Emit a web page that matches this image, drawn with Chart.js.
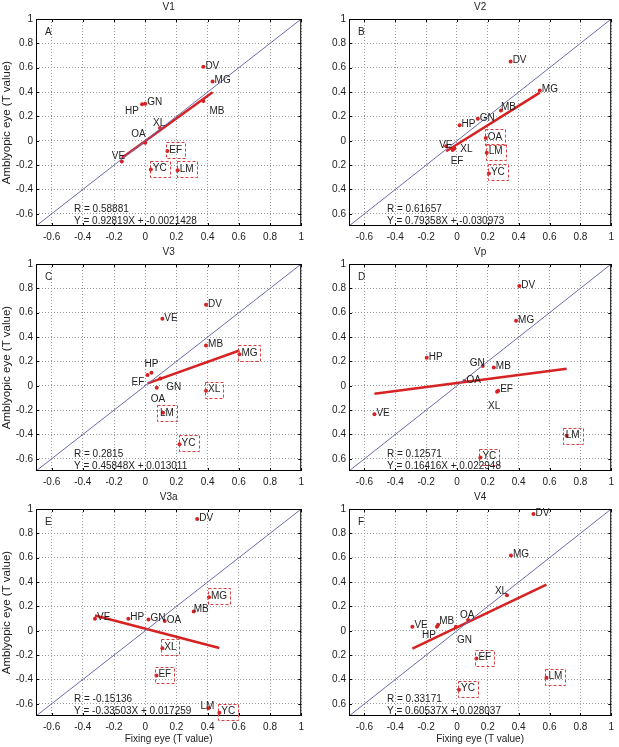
<!DOCTYPE html>
<html>
<head>
<meta charset="utf-8">
<style>
  html, body { margin: 0; padding: 0; background: #fff; width: 619px; height: 747px; overflow: hidden; }
  canvas { position: absolute; }
</style>
<script src="https://cdn.jsdelivr.net/npm/chart.js@4.4.0/dist/chart.umd.min.js"></script>
</head>
<body>
<canvas id="panelA" width="309" height="245" style="left:0;top:0"></canvas>
<canvas id="panelB" width="310" height="245" style="left:309px;top:0"></canvas>
<canvas id="panelC" width="309" height="245" style="left:0;top:245px"></canvas>
<canvas id="panelD" width="310" height="245" style="left:309px;top:245px"></canvas>
<canvas id="panelE" width="309" height="257" style="left:0;top:490px"></canvas>
<canvas id="panelF" width="310" height="257" style="left:309px;top:490px"></canvas>
<script>
/// === DATA === ///
// subject order used in every x / y array below
const subjects = ["DV", "MG", "MB", "GN", "HP", "XL", "OA", "VE", "EF", "YC", "LM"];
const axisMin = -0.7;
const axisMax = 1;
const tickStep = 0.2;

// V1
const v1Fixing    = [0.373, 0.432, 0.373, 0.0, -0.02, 0.095, 0.0, -0.15, 0.142, 0.036, 0.208];
const v1Amblyopic = [0.607, 0.486, 0.327, 0.305, 0.30, 0.104, -0.016, -0.17, -0.085, -0.236, -0.242];
const v1Fit = [0.92819, -0.0021428];
const v1Text = ["R = 0.58881", "Y = 0.92819X + -0.0021428"];
const v1Boxed = ["EF", "YC", "LM"];

// V2
const v2Fixing    = [0.348, 0.537, 0.285, 0.135, 0.017, -0.017, 0.187, -0.07, -0.028, 0.207, 0.193];
const v2Amblyopic = [0.65, 0.413, 0.249, 0.18, 0.128, -0.063, 0.022, -0.046, -0.075, -0.268, -0.098];
const v2Fit = [0.79358, -0.030973];
const v2Text = ["R = 0.61657", "Y = 0.79358X + -0.030973"];
const v2Boxed = ["OA", "LM", "YC"];

// V3
const v3Fixing    = [0.39, 0.604, 0.39, 0.097, 0.04, 0.39, 0.074, 0.11, 0.015, 0.22, 0.114];
const v3Amblyopic = [0.665, 0.258, 0.33, 0.06, 0.107, -0.04, -0.016, 0.55, 0.088, -0.48, -0.222];
const v3Fit = [0.45848, 0.013011];
const v3Text = ["R = 0.2815", "Y = 0.45848X + 0.013011"];
const v3Boxed = ["MG", "XL", "LM", "YC"];

// Vp
const vpFixing    = [0.404, 0.383, 0.239, 0.167, -0.196, 0.26, 0.048, -0.535, 0.267, 0.152, 0.711];
const vpAmblyopic = [0.82, 0.533, 0.151, 0.162, 0.23, -0.05, 0.04, -0.233, -0.04, -0.59, -0.41];
const vpFit = [0.16416, 0.022948];
const vpText = ["R = 0.12571", "Y = 0.16416X + 0.022948"];
const vpBoxed = ["LM", "YC"];

// V3a
const v3aFixing    = [0.333, 0.409, 0.311, 0.021, -0.108, 0.11, 0.125, -0.322, 0.072, 0.475, 0.405];
const v3aAmblyopic = [0.918, 0.275, 0.159, 0.093, 0.099, -0.143, 0.08, 0.099, -0.368, -0.673, -0.637];
const v3aFit = [-0.33503, 0.017259];
const v3aText = ["R = -0.15136", "Y = -0.33503X + 0.017259"];
const v3aBoxed = ["MG", "XL", "EF", "YC"];

// V4
const v4Fixing    = [0.496, 0.35, -0.122, -0.007, -0.13, 0.324, 0.072, -0.289, 0.126, 0.013, 0.58];
const v4Amblyopic = [0.959, 0.618, 0.05, 0.033, 0.033, 0.291, 0.088, 0.033, -0.228, -0.484, -0.385];
const v4Fit = [0.60537, 0.028037];
const v4Text = ["R = 0.33171", "Y = 0.60537X + 0.028037"];
const v4Boxed = ["EF", "LM", "YC"];

// where a label is not just right of its dot (pixels)
const labelNudge = {
  A: { MB: [6, 10], HP: [-17, 7], XL: [-7, -5], OA: [-14, -8], VE: [-10, -5] },
  B: { VE: [-7, -1], XL: [6, 1], EF: [-2, 11], MB: [0, -3] },
  C: { HP: [-7, -8], EF: [-16, 7], GN: [6, 9], OA: [-6, 12], LM: [-3, 0] },
  D: { GN: [-13, -3], XL: [-9, 14], LM: [-1, 0] },
  E: { LM: [-8, -2], MB: [0, -2] },
  F: { XL: [-12, -4], OA: [-8, -5], HP: [-15, 9], GN: [1, 14], MB: [1, -3] },
};

const FONT = '"Liberation Sans", Arial, sans-serif';
const RED = "#d62222";

/// === DRAWING === ///
const panelDecor = {
  id: "panelDecor",
  afterDatasetsDraw(chart, args, opts) {
    const { ctx, chartArea: a, scales: { x, y } } = chart;
    ctx.save();

    // frame + inward ticks
    ctx.strokeStyle = "#000";
    ctx.lineWidth = 1;
    ctx.strokeRect(a.left + 0.5, a.top + 0.5, a.width - 1, a.height - 1);
    ctx.beginPath();
    x.ticks.forEach((t) => {
      const px = Math.round(x.getPixelForValue(t.value)) + 0.5;
      ctx.moveTo(px, a.bottom); ctx.lineTo(px, a.bottom - 3);
      ctx.moveTo(px, a.top); ctx.lineTo(px, a.top + 3);
    });
    y.ticks.forEach((t) => {
      const py = Math.round(y.getPixelForValue(t.value)) + 0.5;
      ctx.moveTo(a.left, py); ctx.lineTo(a.left + 3, py);
      ctx.moveTo(a.right, py); ctx.lineTo(a.right - 3, py);
    });
    ctx.stroke();

    ctx.font = "10px " + FONT;
    ctx.textBaseline = "middle";
    ctx.fillStyle = "#222";

    // title and panel letter
    ctx.textAlign = "center";
    ctx.fillText(opts.title, (a.left + a.right) / 2, a.top - 12);
    ctx.textAlign = "left";
    ctx.fillText(opts.letter, a.left + 9, a.top + 13);

    // subject labels
    subjects.forEach((name, i) => {
      const px = x.getPixelForValue(opts.fixing[i]);
      const py = y.getPixelForValue(opts.amblyopic[i]);
      const [dx, dy] = opts.nudge[name] || [2, -1];
      const tx = px + dx, ty = py + dy;
      ctx.fillStyle = "#222";
      ctx.fillText(name, tx, ty);
      if (opts.boxed.includes(name)) {
        const w = ctx.measureText(name).width;
        ctx.strokeStyle = "#d84040";
        ctx.setLineDash([3, 2]);
        ctx.strokeRect(Math.round(tx - 3) + 0.5, Math.round(ty - 8) + 0.5, Math.round(w + 6), 16);
        ctx.setLineDash([]);
      }
    });

    // correlation text
    ctx.fillStyle = "#222";
    ctx.fillText(opts.text[0], a.left + 38, a.bottom - 17);
    ctx.fillText(opts.text[1], a.left + 38, a.bottom - 5);
    ctx.restore();
  },
};

const fmt = (v) => String(Number(v.toFixed(1)));

const makePanel = (id, letter, title, fixing, amblyopic, fit, text, boxed, col, row) => {
  const lo = Math.min(...fixing);
  const hi = Math.max(...fixing);
  new Chart(document.getElementById(id), {
    type: "scatter",
    data: {
      datasets: [
        {
          type: "line",
          label: "identity",
          data: [{ x: axisMin, y: axisMin }, { x: axisMax, y: axisMax }],
          borderColor: "#6b6bb0",
          borderWidth: 1,
          pointRadius: 0,
        },
        {
          type: "line",
          label: "fit",
          data: [
            { x: lo, y: fit[0] * lo + fit[1] },
            { x: hi, y: fit[0] * hi + fit[1] },
          ],
          borderColor: RED,
          borderWidth: 2.5,
          pointRadius: 0,
        },
        {
          label: title,
          data: fixing.map((v, i) => ({ x: v, y: amblyopic[i] })),
          backgroundColor: RED,
          borderColor: RED,
          pointRadius: 2,
          borderWidth: 0,
        },
      ],
    },
    options: {
      responsive: false,
      animation: false,
      devicePixelRatio: 1,
      layout: { padding: { top: 19, right: 7, left: 0, bottom: 0 } },
      plugins: {
        legend: { display: false },
        tooltip: { enabled: false },
        panelDecor: { letter, title, fixing, amblyopic, text, boxed, nudge: labelNudge[letter] },
      },
      scales: {
        x: {
          type: "linear",
          min: axisMin,
          max: axisMax,
          afterFit: (s) => { s.height = row === 2 ? 31 : 19; },
          ticks: {
            stepSize: tickStep,
            includeBounds: false,
            autoSkip: false,
            maxRotation: 0,
            padding: 5,
            color: "#222",
            font: { family: FONT, size: 10 },
            callback: (v) => fmt(v),
          },
          grid: { color: "#9a9a9a", lineWidth: 1, drawTicks: false },
          border: { display: false, dash: [1, 2] },
          title: {
            display: row === 2,
            text: "Fixing eye (T value)",
            color: "#222",
            font: { family: FONT, size: 10 },
            padding: { top: 0, bottom: 2 },
          },
        },
        y: {
          type: "linear",
          min: axisMin,
          max: axisMax,
          afterFit: (s) => { s.width = col === 0 ? 36 : 40; },
          ticks: {
            stepSize: tickStep,
            includeBounds: false,
            autoSkip: false,
            padding: 3,
            color: "#222",
            font: { family: FONT, size: 10 },
            // right-hand panels lost their minus signs in the original figure
            callback: (v) => (col === 0 ? fmt(v) : fmt(Math.abs(v))),
          },
          grid: { color: "#9a9a9a", lineWidth: 1, drawTicks: false },
          border: { display: false, dash: [1, 2] },
          title: {
            display: col === 0,
            text: "Amblyopic eye (T value)",
            color: "#222",
            font: { family: FONT, size: 11.5 },
            padding: { top: 0, bottom: 0 },
          },
        },
      },
    },
    plugins: [panelDecor],
  });
};

makePanel("panelA", "A", "V1", v1Fixing, v1Amblyopic, v1Fit, v1Text, v1Boxed, 0, 0);
makePanel("panelB", "B", "V2", v2Fixing, v2Amblyopic, v2Fit, v2Text, v2Boxed, 1, 0);
makePanel("panelC", "C", "V3", v3Fixing, v3Amblyopic, v3Fit, v3Text, v3Boxed, 0, 1);
makePanel("panelD", "D", "Vp", vpFixing, vpAmblyopic, vpFit, vpText, vpBoxed, 1, 1);
makePanel("panelE", "E", "V3a", v3aFixing, v3aAmblyopic, v3aFit, v3aText, v3aBoxed, 0, 2);
makePanel("panelF", "F", "V4", v4Fixing, v4Amblyopic, v4Fit, v4Text, v4Boxed, 1, 2);
</script>
</body>
</html>
